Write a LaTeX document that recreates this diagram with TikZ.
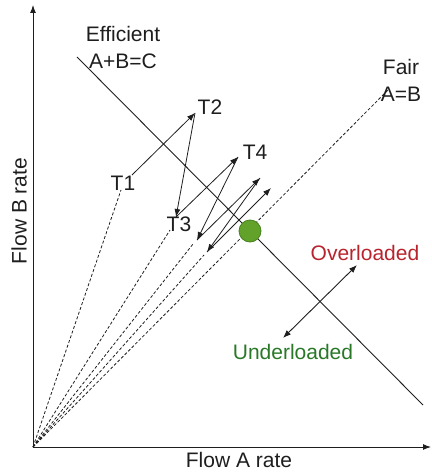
\documentclass[tikz,border=0pt]{standalone}
\usepackage{fontspec}
\setmainfont{Liberation Sans}
\usetikzlibrary{arrows.meta}
\definecolor{overred}{RGB}{185,35,45}
\definecolor{undergreen}{RGB}{40,120,40}
\definecolor{dotfill}{RGB}{98,162,42}
\definecolor{dotedge}{RGB}{70,130,30}
\definecolor{ink}{RGB}{30,30,30}
\begin{document}
\begin{tikzpicture}[x=1pt,y=-1pt,
  lbl/.style={font=\fontsize{21}{27}\selectfont, text=ink, inner sep=0pt, align=center},
  guide/.style={dash pattern=on 3pt off 2pt, line width=0.8pt, draw=ink},
  move/.style={-{Latex[length=8pt,width=6pt]}, line width=0.8pt, draw=ink},
  axis/.style={-{Latex[length=8pt,width=6pt]}, line width=1pt, draw=ink}]
\useasboundingbox (0,0) rectangle (431,473);
% axes
\coordinate (O) at (33,447);
\coordinate (Ytop) at (33,5);
\coordinate (Xend) at (431,447);
\draw[axis] (O) -- (Ytop);
\draw[axis] (O) -- (Xend);
\node[lbl] (xlab) at (239,460) {Flow A rate};
\node[lbl, rotate=90] (ylab) at (19,211) {Flow B rate};
% efficiency line
\coordinate (E1) at (77,57);
\coordinate (E2) at (423,405);
\draw[line width=0.9pt, draw=ink] (E1) -- (E2);
\node[lbl] (eff) at (123,47) {Efficient\\A+B=C};
% fairness line
\coordinate (F2) at (388,90);
\draw[guide] (O) -- (F2);
\node[lbl] (fair) at (401,80) {Fair\\A=B};
% trajectory points
\coordinate (D1) at (121,190);
\coordinate (P1) at (132,175);
\coordinate (P2) at (195,113);
\coordinate (P3) at (176,217);
\coordinate (D3) at (170,230);
\coordinate (P4) at (238,157);
\coordinate (P5) at (197,240);
\coordinate (D5) at (193,244);
\coordinate (P6) at (260,178);
\coordinate (P7) at (207,252);
\coordinate (D7) at (204,255);
\coordinate (P8) at (271,188);
\draw[guide] (O) -- (D1);
\draw[guide] (O) -- (D3);
\draw[guide] (O) -- (D5);
\draw[guide] (O) -- (D7);
\draw[move] (P1) -- (P2);
\draw[move] (P2) -- (P3);
\draw[move] (P3) -- (P4);
\draw[move] (P4) -- (P5);
\draw[move] (P5) -- (P6);
\draw[move] (P6) -- (P7);
\draw[move] (P7) -- (P8);
\node[lbl] (t1) at (123,183) {T1};
\node[lbl] (t2) at (210,107) {T2};
\node[lbl] (t3) at (179,224) {T3};
\node[lbl] (t4) at (255,152) {T4};
% optimal point
\node[circle, minimum size=22pt, inner sep=0pt, fill=dotfill, draw=dotedge, line width=0.8pt] (opt) at (250,231) {};
% over/under
\coordinate (U) at (283,338);
\coordinate (V) at (357,265);
\draw[{Latex[length=8pt,width=6pt]}-{Latex[length=8pt,width=6pt]}, line width=0.9pt, draw=ink] (U) -- (V);
\node[lbl, text=overred] (over) at (365,253) {Overloaded};
\node[lbl, text=undergreen] (under) at (293,352) {Underloaded};
\end{tikzpicture}
\end{document}
